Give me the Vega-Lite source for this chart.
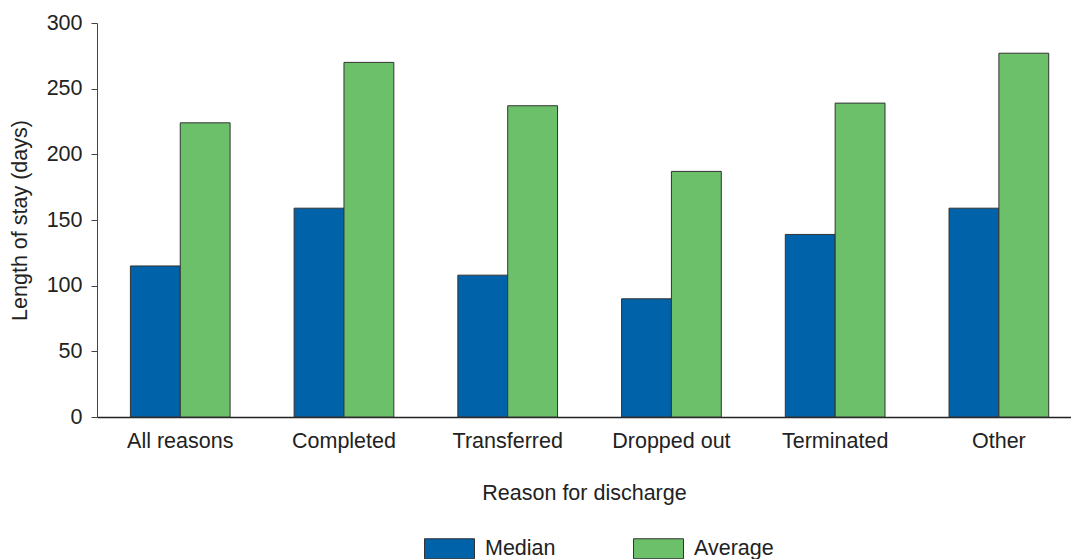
{
  "$schema": "https://vega.github.io/schema/vega-lite/v6.json",
  "width": 974,
  "height": 394,
  "autosize": "none",
  "padding": {"left": 97, "top": 23, "right": 0, "bottom": 142},
  "background": "white",
  "config": {
    "view": {"stroke": null},
    "font": "Liberation Sans",
    "axis": {"labelFont": "Liberation Sans", "titleFont": "Liberation Sans", "labelFontSize": 21.5, "titleFontSize": 21.5, "titleFontWeight": "normal", "labelColor": "#222", "titleColor": "#222", "grid": false},
    "legend": {"labelFont": "Liberation Sans", "labelFontSize": 21.5, "labelColor": "#222"}
  },
  "data": {
    "values": [
      {"reason": "All reasons", "series": "Median", "days": 115},
      {"reason": "All reasons", "series": "Average", "days": 224},
      {"reason": "Completed", "series": "Median", "days": 159},
      {"reason": "Completed", "series": "Average", "days": 270},
      {"reason": "Transferred", "series": "Median", "days": 108},
      {"reason": "Transferred", "series": "Average", "days": 237},
      {"reason": "Dropped out", "series": "Median", "days": 90},
      {"reason": "Dropped out", "series": "Average", "days": 187},
      {"reason": "Terminated", "series": "Median", "days": 139},
      {"reason": "Terminated", "series": "Average", "days": 239},
      {"reason": "Other", "series": "Median", "days": 159},
      {"reason": "Other", "series": "Average", "days": 277}
    ]
  },
  "mark": {"type": "bar", "stroke": "#333", "strokeWidth": 1},
  "encoding": {
    "x": {
      "field": "reason", "type": "nominal", "sort": null,
      "title": "Reason for discharge",
      "scale": {"paddingInner": 0.391, "paddingOuter": 0.17, "align": 0.6},
      "axis": {"labelAngle": 0, "ticks": false, "domainColor": "#222", "domainWidth": 1.5, "labelPadding": 13, "titlePadding": 31}
    },
    "xOffset": {"field": "series", "type": "nominal", "sort": ["Median", "Average"], "scale": {"paddingInner": 0, "paddingOuter": 0}},
    "y": {
      "field": "days", "type": "quantitative",
      "title": "Length of stay (days)",
      "scale": {"domain": [0, 300]},
      "axis": {"values": [0, 50, 100, 150, 200, 250, 300], "tickSize": 6, "tickColor": "#444", "domainColor": "#444", "labelPadding": 9, "titlePadding": 15}
    },
    "color": {
      "field": "series", "type": "nominal", "sort": ["Median", "Average"],
      "scale": {"domain": ["Median", "Average"], "range": ["#0062A8", "#6CC06A"]},
      "legend": {
        "title": null, "orient": "none", "direction": "horizontal",
        "legendX": 327, "legendY": 500,
        "symbolType": "M-1,-0.4H1V0.4H-1Z", "symbolSize": 2500,
        "symbolStrokeColor": "#333", "symbolStrokeWidth": 1, "symbolOpacity": 1,
        "labelOffset": 10, "columnPadding": 75
      }
    }
  }
}
